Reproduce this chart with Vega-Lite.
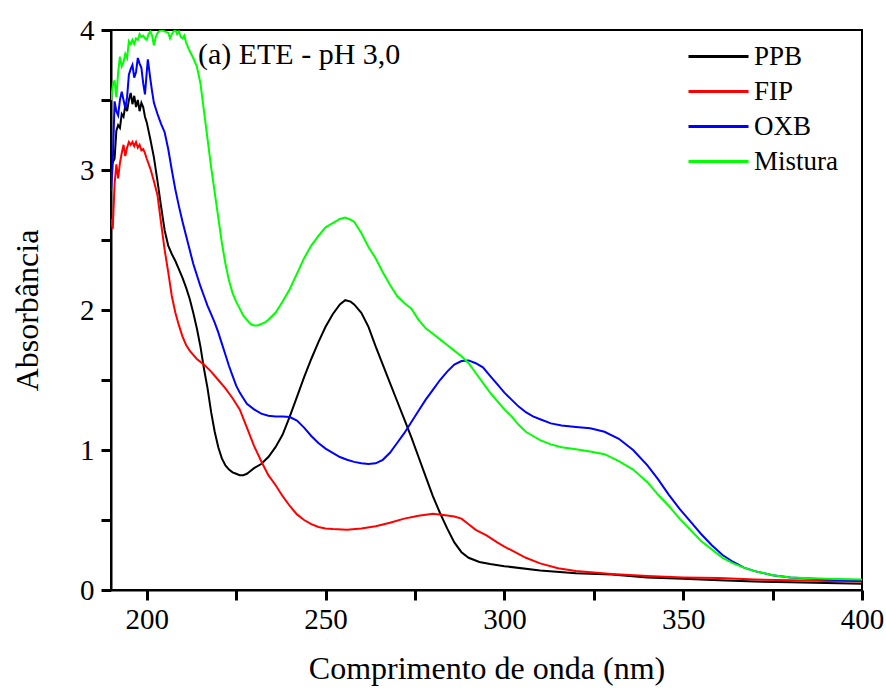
{
  "$schema": "https://vega.github.io/schema/vega-lite/v6.json",
  "width": 751,
  "height": 560,
  "autosize": {"type": "none"},
  "padding": {"left": 111, "top": 30, "right": 24, "bottom": 101},
  "background": "white",
  "config": {
    "view": {"stroke": "black", "strokeWidth": 2},
    "font": "Liberation Serif"
  },
  "layer": [
    {
      "data": {"values": [
{"s":"PPB","x":190,"y":3.03},{"s":"PPB","x":191,"y":3.08},{"s":"PPB","x":191.5,"y":3.28},{"s":"PPB","x":192,"y":3.32},{"s":"PPB","x":192.5,"y":3.3},{"s":"PPB","x":193,"y":3.4},{"s":"PPB","x":193.5,"y":3.38},{"s":"PPB","x":194,"y":3.46},{"s":"PPB","x":194.5,"y":3.42},{"s":"PPB","x":195,"y":3.5},{"s":"PPB","x":195.5,"y":3.55},{"s":"PPB","x":196,"y":3.47},{"s":"PPB","x":196.5,"y":3.53},{"s":"PPB","x":197,"y":3.45},{"s":"PPB","x":197.5,"y":3.5},{"s":"PPB","x":198,"y":3.42},{"s":"PPB","x":198.5,"y":3.48},{"s":"PPB","x":199,"y":3.45},{"s":"PPB","x":199.5,"y":3.38},{"s":"PPB","x":200,"y":3.34},{"s":"PPB","x":201,"y":3.22},{"s":"PPB","x":202,"y":3.09},{"s":"PPB","x":203,"y":2.92},{"s":"PPB","x":204,"y":2.74},{"s":"PPB","x":205,"y":2.57},{"s":"PPB","x":206,"y":2.46},{"s":"PPB","x":207,"y":2.4},{"s":"PPB","x":208,"y":2.35},{"s":"PPB","x":209,"y":2.29},{"s":"PPB","x":210,"y":2.23},{"s":"PPB","x":211,"y":2.16},{"s":"PPB","x":212,"y":2.08},{"s":"PPB","x":213,"y":1.98},{"s":"PPB","x":214,"y":1.87},{"s":"PPB","x":215,"y":1.74},{"s":"PPB","x":216,"y":1.58},{"s":"PPB","x":217,"y":1.44},{"s":"PPB","x":218,"y":1.27},{"s":"PPB","x":219,"y":1.13},{"s":"PPB","x":220,"y":1.02},{"s":"PPB","x":221,"y":0.94},{"s":"PPB","x":222,"y":0.89},{"s":"PPB","x":223,"y":0.86},{"s":"PPB","x":224,"y":0.84},{"s":"PPB","x":225,"y":0.83},{"s":"PPB","x":226,"y":0.82},{"s":"PPB","x":227,"y":0.82},{"s":"PPB","x":228,"y":0.83},{"s":"PPB","x":229,"y":0.85},{"s":"PPB","x":230,"y":0.87},{"s":"PPB","x":232,"y":0.9},{"s":"PPB","x":234,"y":0.95},{"s":"PPB","x":236,"y":1.02},{"s":"PPB","x":238,"y":1.11},{"s":"PPB","x":240,"y":1.24},{"s":"PPB","x":242,"y":1.38},{"s":"PPB","x":244,"y":1.52},{"s":"PPB","x":246,"y":1.65},{"s":"PPB","x":248,"y":1.77},{"s":"PPB","x":250,"y":1.88},{"s":"PPB","x":252,"y":1.97},{"s":"PPB","x":254,"y":2.04},{"s":"PPB","x":255.5,"y":2.07},{"s":"PPB","x":257,"y":2.06},{"s":"PPB","x":258,"y":2.04},{"s":"PPB","x":260,"y":1.98},{"s":"PPB","x":262,"y":1.88},{"s":"PPB","x":264,"y":1.74},{"s":"PPB","x":266,"y":1.61},{"s":"PPB","x":268,"y":1.48},{"s":"PPB","x":270,"y":1.35},{"s":"PPB","x":272,"y":1.22},{"s":"PPB","x":274,"y":1.09},{"s":"PPB","x":276,"y":0.95},{"s":"PPB","x":278,"y":0.81},{"s":"PPB","x":280,"y":0.67},{"s":"PPB","x":282,"y":0.55},{"s":"PPB","x":284,"y":0.44},{"s":"PPB","x":286,"y":0.34},{"s":"PPB","x":288,"y":0.27},{"s":"PPB","x":290,"y":0.23},{"s":"PPB","x":293,"y":0.2},{"s":"PPB","x":296,"y":0.185},{"s":"PPB","x":300,"y":0.17},{"s":"PPB","x":310,"y":0.14},{"s":"PPB","x":320,"y":0.12},{"s":"PPB","x":330,"y":0.11},{"s":"PPB","x":340,"y":0.09},{"s":"PPB","x":350,"y":0.08},{"s":"PPB","x":360,"y":0.07},{"s":"PPB","x":370,"y":0.06},{"s":"PPB","x":380,"y":0.055},{"s":"PPB","x":390,"y":0.05},{"s":"PPB","x":400,"y":0.045},
{"s":"FIP","x":190,"y":2.65},{"s":"FIP","x":190.5,"y":2.58},{"s":"FIP","x":191,"y":2.9},{"s":"FIP","x":191.5,"y":3.04},{"s":"FIP","x":192,"y":2.94},{"s":"FIP","x":192.5,"y":3.05},{"s":"FIP","x":193,"y":3.12},{"s":"FIP","x":193.5,"y":3.18},{"s":"FIP","x":194,"y":3.1},{"s":"FIP","x":194.5,"y":3.16},{"s":"FIP","x":195,"y":3.2},{"s":"FIP","x":195.5,"y":3.18},{"s":"FIP","x":196,"y":3.2},{"s":"FIP","x":196.5,"y":3.17},{"s":"FIP","x":197,"y":3.2},{"s":"FIP","x":197.5,"y":3.16},{"s":"FIP","x":198,"y":3.18},{"s":"FIP","x":198.5,"y":3.14},{"s":"FIP","x":199,"y":3.15},{"s":"FIP","x":199.5,"y":3.12},{"s":"FIP","x":200,"y":3.08},{"s":"FIP","x":201,"y":3.01},{"s":"FIP","x":202,"y":2.92},{"s":"FIP","x":203,"y":2.82},{"s":"FIP","x":204,"y":2.62},{"s":"FIP","x":205,"y":2.43},{"s":"FIP","x":206,"y":2.27},{"s":"FIP","x":207,"y":2.1},{"s":"FIP","x":208,"y":1.98},{"s":"FIP","x":209,"y":1.89},{"s":"FIP","x":210,"y":1.81},{"s":"FIP","x":211,"y":1.75},{"s":"FIP","x":212,"y":1.71},{"s":"FIP","x":213,"y":1.68},{"s":"FIP","x":214,"y":1.65},{"s":"FIP","x":216,"y":1.61},{"s":"FIP","x":218,"y":1.56},{"s":"FIP","x":220,"y":1.5},{"s":"FIP","x":222,"y":1.44},{"s":"FIP","x":224,"y":1.37},{"s":"FIP","x":226,"y":1.29},{"s":"FIP","x":228,"y":1.16},{"s":"FIP","x":230,"y":1.03},{"s":"FIP","x":232,"y":0.92},{"s":"FIP","x":234,"y":0.82},{"s":"FIP","x":236,"y":0.75},{"s":"FIP","x":238,"y":0.67},{"s":"FIP","x":240,"y":0.6},{"s":"FIP","x":242,"y":0.54},{"s":"FIP","x":244,"y":0.5},{"s":"FIP","x":246,"y":0.47},{"s":"FIP","x":248,"y":0.45},{"s":"FIP","x":250,"y":0.44},{"s":"FIP","x":252,"y":0.435},{"s":"FIP","x":256,"y":0.43},{"s":"FIP","x":260,"y":0.44},{"s":"FIP","x":264,"y":0.455},{"s":"FIP","x":268,"y":0.48},{"s":"FIP","x":272,"y":0.51},{"s":"FIP","x":276,"y":0.53},{"s":"FIP","x":280,"y":0.545},{"s":"FIP","x":283,"y":0.535},{"s":"FIP","x":286,"y":0.525},{"s":"FIP","x":288,"y":0.51},{"s":"FIP","x":290,"y":0.47},{"s":"FIP","x":292,"y":0.43},{"s":"FIP","x":295,"y":0.39},{"s":"FIP","x":298,"y":0.34},{"s":"FIP","x":300,"y":0.31},{"s":"FIP","x":303,"y":0.27},{"s":"FIP","x":306,"y":0.23},{"s":"FIP","x":310,"y":0.19},{"s":"FIP","x":315,"y":0.155},{"s":"FIP","x":320,"y":0.135},{"s":"FIP","x":330,"y":0.115},{"s":"FIP","x":340,"y":0.1},{"s":"FIP","x":350,"y":0.09},{"s":"FIP","x":360,"y":0.085},{"s":"FIP","x":370,"y":0.075},{"s":"FIP","x":380,"y":0.07},{"s":"FIP","x":390,"y":0.065},{"s":"FIP","x":400,"y":0.06},
{"s":"OXB","x":190,"y":2.85},{"s":"OXB","x":190.5,"y":3.05},{"s":"OXB","x":191,"y":3.49},{"s":"OXB","x":191.5,"y":3.42},{"s":"OXB","x":192,"y":3.39},{"s":"OXB","x":192.5,"y":3.5},{"s":"OXB","x":193,"y":3.56},{"s":"OXB","x":193.5,"y":3.5},{"s":"OXB","x":194,"y":3.44},{"s":"OXB","x":194.5,"y":3.52},{"s":"OXB","x":195,"y":3.68},{"s":"OXB","x":195.5,"y":3.72},{"s":"OXB","x":196,"y":3.75},{"s":"OXB","x":196.5,"y":3.66},{"s":"OXB","x":197,"y":3.7},{"s":"OXB","x":197.5,"y":3.8},{"s":"OXB","x":198,"y":3.76},{"s":"OXB","x":198.5,"y":3.73},{"s":"OXB","x":199,"y":3.62},{"s":"OXB","x":199.5,"y":3.54},{"s":"OXB","x":200,"y":3.7},{"s":"OXB","x":200.3,"y":3.79},{"s":"OXB","x":201,"y":3.65},{"s":"OXB","x":201.5,"y":3.56},{"s":"OXB","x":202,"y":3.48},{"s":"OXB","x":203,"y":3.4},{"s":"OXB","x":204,"y":3.33},{"s":"OXB","x":205,"y":3.27},{"s":"OXB","x":206,"y":3.15},{"s":"OXB","x":207,"y":3.0},{"s":"OXB","x":208,"y":2.86},{"s":"OXB","x":209,"y":2.74},{"s":"OXB","x":210,"y":2.63},{"s":"OXB","x":211,"y":2.53},{"s":"OXB","x":212,"y":2.43},{"s":"OXB","x":213,"y":2.33},{"s":"OXB","x":214,"y":2.25},{"s":"OXB","x":215,"y":2.17},{"s":"OXB","x":216,"y":2.1},{"s":"OXB","x":217,"y":2.03},{"s":"OXB","x":218,"y":1.97},{"s":"OXB","x":219,"y":1.91},{"s":"OXB","x":220,"y":1.84},{"s":"OXB","x":221,"y":1.76},{"s":"OXB","x":222,"y":1.68},{"s":"OXB","x":223,"y":1.6},{"s":"OXB","x":224,"y":1.53},{"s":"OXB","x":225,"y":1.46},{"s":"OXB","x":226,"y":1.41},{"s":"OXB","x":227,"y":1.37},{"s":"OXB","x":228,"y":1.33},{"s":"OXB","x":230,"y":1.29},{"s":"OXB","x":232,"y":1.26},{"s":"OXB","x":234,"y":1.245},{"s":"OXB","x":236,"y":1.24},{"s":"OXB","x":238,"y":1.24},{"s":"OXB","x":240,"y":1.235},{"s":"OXB","x":242,"y":1.21},{"s":"OXB","x":244,"y":1.16},{"s":"OXB","x":246,"y":1.1},{"s":"OXB","x":248,"y":1.05},{"s":"OXB","x":250,"y":1.01},{"s":"OXB","x":252,"y":0.98},{"s":"OXB","x":254,"y":0.95},{"s":"OXB","x":256,"y":0.93},{"s":"OXB","x":258,"y":0.915},{"s":"OXB","x":260,"y":0.905},{"s":"OXB","x":262,"y":0.9},{"s":"OXB","x":264,"y":0.905},{"s":"OXB","x":266,"y":0.93},{"s":"OXB","x":268,"y":0.98},{"s":"OXB","x":270,"y":1.05},{"s":"OXB","x":272,"y":1.12},{"s":"OXB","x":274,"y":1.2},{"s":"OXB","x":276,"y":1.28},{"s":"OXB","x":278,"y":1.36},{"s":"OXB","x":280,"y":1.43},{"s":"OXB","x":282,"y":1.5},{"s":"OXB","x":284,"y":1.56},{"s":"OXB","x":286,"y":1.61},{"s":"OXB","x":288,"y":1.635},{"s":"OXB","x":290,"y":1.64},{"s":"OXB","x":292,"y":1.62},{"s":"OXB","x":294,"y":1.59},{"s":"OXB","x":296,"y":1.53},{"s":"OXB","x":298,"y":1.47},{"s":"OXB","x":300,"y":1.41},{"s":"OXB","x":302,"y":1.36},{"s":"OXB","x":304,"y":1.31},{"s":"OXB","x":306,"y":1.27},{"s":"OXB","x":308,"y":1.24},{"s":"OXB","x":310,"y":1.22},{"s":"OXB","x":313,"y":1.19},{"s":"OXB","x":316,"y":1.175},{"s":"OXB","x":320,"y":1.165},{"s":"OXB","x":324,"y":1.155},{"s":"OXB","x":328,"y":1.13},{"s":"OXB","x":332,"y":1.08},{"s":"OXB","x":336,"y":1.0},{"s":"OXB","x":340,"y":0.89},{"s":"OXB","x":343,"y":0.79},{"s":"OXB","x":346,"y":0.68},{"s":"OXB","x":349,"y":0.58},{"s":"OXB","x":352,"y":0.49},{"s":"OXB","x":355,"y":0.4},{"s":"OXB","x":358,"y":0.32},{"s":"OXB","x":361,"y":0.25},{"s":"OXB","x":364,"y":0.2},{"s":"OXB","x":367,"y":0.16},{"s":"OXB","x":370,"y":0.135},{"s":"OXB","x":375,"y":0.105},{"s":"OXB","x":380,"y":0.09},{"s":"OXB","x":390,"y":0.075},{"s":"OXB","x":400,"y":0.065},
{"s":"Mistura","x":190,"y":3.5},{"s":"Mistura","x":190.5,"y":3.6},{"s":"Mistura","x":191,"y":3.64},{"s":"Mistura","x":191.5,"y":3.52},{"s":"Mistura","x":192,"y":3.7},{"s":"Mistura","x":192.5,"y":3.81},{"s":"Mistura","x":193,"y":3.74},{"s":"Mistura","x":193.5,"y":3.77},{"s":"Mistura","x":194,"y":3.83},{"s":"Mistura","x":194.5,"y":3.8},{"s":"Mistura","x":195,"y":3.92},{"s":"Mistura","x":195.5,"y":3.9},{"s":"Mistura","x":196,"y":3.93},{"s":"Mistura","x":196.5,"y":3.9},{"s":"Mistura","x":197,"y":3.94},{"s":"Mistura","x":197.5,"y":3.93},{"s":"Mistura","x":198,"y":3.97},{"s":"Mistura","x":198.5,"y":3.95},{"s":"Mistura","x":199,"y":3.96},{"s":"Mistura","x":199.5,"y":3.94},{"s":"Mistura","x":200,"y":3.93},{"s":"Mistura","x":200.5,"y":3.97},{"s":"Mistura","x":201,"y":3.99},{"s":"Mistura","x":201.5,"y":3.96},{"s":"Mistura","x":202,"y":3.89},{"s":"Mistura","x":202.5,"y":3.95},{"s":"Mistura","x":203,"y":3.98},{"s":"Mistura","x":203.5,"y":3.99},{"s":"Mistura","x":204,"y":4.0},{"s":"Mistura","x":205,"y":3.99},{"s":"Mistura","x":206,"y":3.98},{"s":"Mistura","x":206.5,"y":3.94},{"s":"Mistura","x":207,"y":3.97},{"s":"Mistura","x":207.5,"y":3.99},{"s":"Mistura","x":208,"y":4.0},{"s":"Mistura","x":208.5,"y":3.97},{"s":"Mistura","x":209,"y":3.99},{"s":"Mistura","x":209.5,"y":3.95},{"s":"Mistura","x":210,"y":3.94},{"s":"Mistura","x":210.5,"y":3.96},{"s":"Mistura","x":211,"y":3.91},{"s":"Mistura","x":212,"y":3.85},{"s":"Mistura","x":213,"y":3.8},{"s":"Mistura","x":214,"y":3.74},{"s":"Mistura","x":215,"y":3.62},{"s":"Mistura","x":216,"y":3.42},{"s":"Mistura","x":217,"y":3.22},{"s":"Mistura","x":218,"y":3.02},{"s":"Mistura","x":219,"y":2.84},{"s":"Mistura","x":220,"y":2.66},{"s":"Mistura","x":221,"y":2.48},{"s":"Mistura","x":222,"y":2.33},{"s":"Mistura","x":223,"y":2.21},{"s":"Mistura","x":224,"y":2.12},{"s":"Mistura","x":225,"y":2.06},{"s":"Mistura","x":226,"y":2.01},{"s":"Mistura","x":227,"y":1.96},{"s":"Mistura","x":228,"y":1.93},{"s":"Mistura","x":229,"y":1.9},{"s":"Mistura","x":230,"y":1.89},{"s":"Mistura","x":231,"y":1.89},{"s":"Mistura","x":232,"y":1.9},{"s":"Mistura","x":233,"y":1.91},{"s":"Mistura","x":234,"y":1.93},{"s":"Mistura","x":236,"y":1.98},{"s":"Mistura","x":238,"y":2.06},{"s":"Mistura","x":240,"y":2.15},{"s":"Mistura","x":242,"y":2.26},{"s":"Mistura","x":244,"y":2.37},{"s":"Mistura","x":246,"y":2.46},{"s":"Mistura","x":248,"y":2.53},{"s":"Mistura","x":250,"y":2.59},{"s":"Mistura","x":252,"y":2.62},{"s":"Mistura","x":254,"y":2.65},{"s":"Mistura","x":255.5,"y":2.66},{"s":"Mistura","x":257,"y":2.645},{"s":"Mistura","x":258,"y":2.63},{"s":"Mistura","x":260,"y":2.55},{"s":"Mistura","x":262,"y":2.45},{"s":"Mistura","x":264,"y":2.37},{"s":"Mistura","x":266,"y":2.27},{"s":"Mistura","x":268,"y":2.18},{"s":"Mistura","x":270,"y":2.1},{"s":"Mistura","x":272,"y":2.05},{"s":"Mistura","x":274,"y":2.01},{"s":"Mistura","x":276,"y":1.93},{"s":"Mistura","x":278,"y":1.87},{"s":"Mistura","x":280,"y":1.83},{"s":"Mistura","x":282,"y":1.79},{"s":"Mistura","x":284,"y":1.75},{"s":"Mistura","x":286,"y":1.71},{"s":"Mistura","x":288,"y":1.67},{"s":"Mistura","x":290,"y":1.62},{"s":"Mistura","x":292,"y":1.55},{"s":"Mistura","x":294,"y":1.48},{"s":"Mistura","x":296,"y":1.41},{"s":"Mistura","x":298,"y":1.35},{"s":"Mistura","x":300,"y":1.29},{"s":"Mistura","x":302,"y":1.24},{"s":"Mistura","x":304,"y":1.18},{"s":"Mistura","x":306,"y":1.13},{"s":"Mistura","x":308,"y":1.1},{"s":"Mistura","x":310,"y":1.07},{"s":"Mistura","x":313,"y":1.04},{"s":"Mistura","x":316,"y":1.02},{"s":"Mistura","x":320,"y":1.005},{"s":"Mistura","x":324,"y":0.99},{"s":"Mistura","x":328,"y":0.97},{"s":"Mistura","x":332,"y":0.92},{"s":"Mistura","x":336,"y":0.86},{"s":"Mistura","x":340,"y":0.77},{"s":"Mistura","x":343,"y":0.68},{"s":"Mistura","x":346,"y":0.6},{"s":"Mistura","x":349,"y":0.51},{"s":"Mistura","x":352,"y":0.43},{"s":"Mistura","x":355,"y":0.35},{"s":"Mistura","x":358,"y":0.29},{"s":"Mistura","x":361,"y":0.23},{"s":"Mistura","x":364,"y":0.19},{"s":"Mistura","x":367,"y":0.16},{"s":"Mistura","x":370,"y":0.135},{"s":"Mistura","x":375,"y":0.105},{"s":"Mistura","x":380,"y":0.09},{"s":"Mistura","x":390,"y":0.08},{"s":"Mistura","x":400,"y":0.075}
      ]},
      "mark": {"type": "line", "strokeWidth": 2, "clip": true},
      "encoding": {
        "x": {
          "field": "x", "type": "quantitative",
          "scale": {"domain": [190, 400], "nice": false, "zero": false},
          "axis": {
            "title": "Comprimento de onda (nm)",
            "values": [200, 225, 250, 275, 300, 325, 350, 375, 400],
            "labelExpr": "datum.value % 50 === 0 ? format(datum.value, 'd') : ''",
            "grid": false,
            "ticks": true, "tickColor": "black", "tickWidth": 3, "tickSize": 10, "tickOpacity": 1,
            "domainColor": "black", "domainWidth": 2,
            "labelFont": "Liberation Serif", "labelFontSize": 29, "labelColor": "black",
            "labelPadding": 5, "labelFlush": false,
            "titleFont": "Liberation Serif", "titleFontSize": 32, "titleFontWeight": "normal", "titleColor": "black",
            "titlePadding": 19
          }
        },
        "y": {
          "field": "y", "type": "quantitative",
          "scale": {"domain": [0, 4], "nice": false},
          "axis": {
            "title": "Absorbância",
            "values": [0, 0.5, 1, 1.5, 2, 2.5, 3, 3.5, 4],
            "labelExpr": "datum.value % 1 === 0 ? format(datum.value, 'd') : ''",
            "grid": false,
            "ticks": true, "tickColor": "black", "tickWidth": 3, "tickSize": 10, "tickOpacity": 1,
            "domainColor": "black", "domainWidth": 2,
            "labelFont": "Liberation Serif", "labelFontSize": 29, "labelColor": "black",
            "labelPadding": 7, "labelFlush": false,
            "titleFont": "Liberation Serif", "titleFontSize": 32, "titleFontWeight": "normal", "titleColor": "black",
            "titlePadding": 35
          }
        },
        "color": {
          "field": "s", "type": "nominal",
          "scale": {"domain": ["PPB", "FIP", "OXB", "Mistura"], "range": ["#000000", "#ff0000", "#0000ff", "#00ff00"]},
          "legend": {
            "orient": "none", "legendX": 576, "legendY": 9,
            "title": null,
            "symbolType": "stroke", "symbolSize": 3600, "symbolStrokeWidth": 3,
            "clipHeight": 35, "rowPadding": 0, "labelOffset": 4, "padding": 0,
            "labelFont": "Liberation Serif", "labelFontSize": 27, "labelColor": "black"
          }
        },
        "order": {"field": "x", "type": "quantitative"}
      }
    },
    {
      "data": {"values": [{"label": "(a) ETE - pH 3,0"}]},
      "mark": {"type": "text", "align": "left", "baseline": "alphabetic", "font": "Liberation Serif", "fontSize": 30, "color": "black"},
      "encoding": {
        "x": {"datum": 214.3, "type": "quantitative"},
        "y": {"datum": 3.757, "type": "quantitative"},
        "text": {"field": "label"}
      }
    }
  ]
}
